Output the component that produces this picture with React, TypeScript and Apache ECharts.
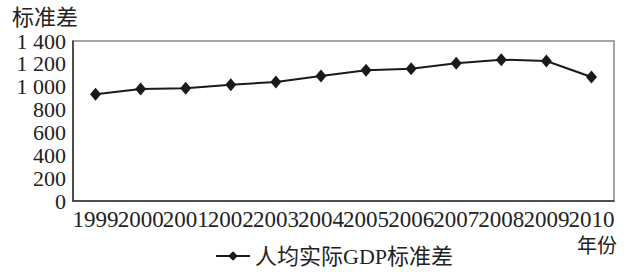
import React, { useEffect, useRef } from "react";
import * as echarts from "echarts";

const years = ["1999", "2000", "2001", "2002", "2003", "2004", "2005", "2006", "2007", "2008", "2009", "2010"];
const gdpStd = [935, 980, 986, 1018, 1041, 1094, 1144, 1158, 1205, 1237, 1225, 1085];
const seriesName = "人均实际GDP标准差";
const yAxisTitle = "标准差";
const xAxisTitle = "年份";

const FONT = "'Liberation Serif', 'Noto Sans CJK SC', serif";

export default function App() {
  const ref = useRef<HTMLDivElement>(null);
  useEffect(() => {
    if (!ref.current) return;
    const chart = echarts.init(ref.current, undefined, { renderer: "svg" });
    chart.setOption({
      animation: false,
      backgroundColor: "#fff",
      grid: {
        left: 73,
        top: 41,
        right: 14,
        bottom: 71,
        show: true,
        borderColor: "#888",
        borderWidth: 1.5,
      },
      legend: {
        data: [seriesName],
        bottom: 0,
        left: 210,
        itemWidth: 34,
        itemHeight: 12,
        itemGap: 8,
        textStyle: { fontFamily: FONT, fontSize: 22, color: "#222" },
      },
      xAxis: {
        type: "category",
        data: years,
        boundaryGap: true,
        axisLine: { lineStyle: { color: "#333", width: 1.5 } },
        axisTick: { show: false },
        axisLabel: {
          fontFamily: FONT,
          fontSize: 23,
          color: "#222",
          margin: 7,
          interval: 0,
        },
      },
      yAxis: {
        type: "value",
        min: 0,
        max: 1400,
        interval: 200,
        splitLine: { show: false },
        axisLine: { show: true, lineStyle: { color: "#333", width: 1.5 } },
        axisTick: { show: false },
        axisLabel: {
          fontFamily: FONT,
          fontSize: 22,
          color: "#222",
          margin: 7,
          formatter: (v: number) => String(v).replace(/\B(?=(\d{3})+(?!\d))/g, " "),
        },
      },
      graphic: [
        {
          type: "text",
          left: 12,
          top: 6,
          style: { text: yAxisTitle, fontFamily: FONT, fontSize: 22, fill: "#222" },
        },
        {
          type: "text",
          left: 577,
          top: 236,
          style: { text: xAxisTitle, fontFamily: FONT, fontSize: 20, fill: "#222" },
        },
      ],
      series: [
        {
          name: seriesName,
          type: "line",
          data: gdpStd,
          symbol: "diamond",
          symbolSize: [11, 13],
          lineStyle: { color: "#1a1a1a", width: 2 },
          itemStyle: { color: "#1a1a1a" },
        },
      ],
    });
    return () => chart.dispose();
  }, []);
  return (
    <div
      ref={ref}
      style={{ position: "fixed", left: 0, top: 0, width: 628, height: 272 }}
    />
  );
}
